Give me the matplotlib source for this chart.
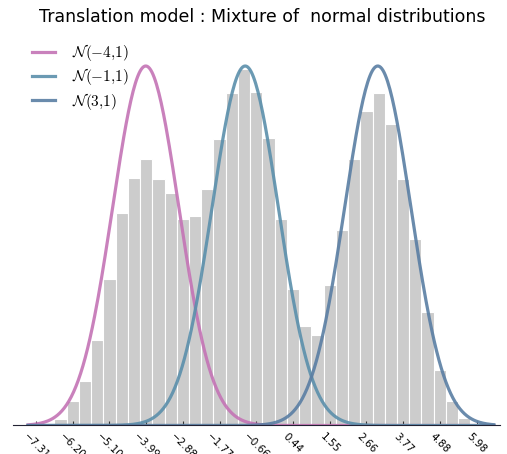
import matplotlib
matplotlib.use("Agg")
import matplotlib.pyplot as plt
import numpy as np

# histogram of the sample (density), one value per bin
x_min, x_max = -7.31, 5.98
n_bins = 36
bin_heights = [0.000, 0.001, 0.0075, 0.0269, 0.0490, 0.0949, 0.1629, 0.2361,
               0.2750, 0.2960, 0.2739, 0.2580, 0.2288, 0.2330, 0.2628, 0.3182,
               0.3686, 0.3961, 0.3697, 0.3194, 0.2288, 0.1518, 0.1104, 0.1008,
               0.1559, 0.2169, 0.2957, 0.3493, 0.3690, 0.3342, 0.2732, 0.2066,
               0.1256, 0.0616, 0.0275, 0.0087]
tick_labels = ["-7.31", "-6.20", "-5.10", "-3.99", "-2.88", "-1.77", "-0.66",
               "0.44", "1.55", "2.66", "3.77", "4.88", "5.98"]

# mixture components
means = [-4, -1, 3]
sigmas = [1, 1, 1]
labels = [r"$\mathcal{N}(-4{,}1)$", r"$\mathcal{N}(-1{,}1)$", r"$\mathcal{N}(3{,}1)$"]
colors = ["#c473b5", "#5b8fab", "#5a7ea3"]

plt.rcParams["mathtext.fontset"] = "cm"

fig = plt.figure(figsize=(5.07, 4.54), dpi=100)
ax = fig.add_axes([0.026, 0.0628, 0.961, 0.838])

edges = np.linspace(x_min, x_max, n_bins + 1)
width = edges[1] - edges[0]
ax.bar(edges[:-1], bin_heights, width=width, color="#cccccc",
       edgecolor="white", linewidth=0.8, zorder=1)

x = np.linspace(-7.55, 6.5, 400)
for mu, s, lab, c in zip(means, sigmas, labels, colors):
    y = np.exp(-0.5 * ((x - mu) / s) ** 2) / (s * np.sqrt(2 * np.pi))
    ax.plot(x, y, color=c, lw=2.3, alpha=0.9, label=lab, zorder=2)

ax.set_xlim(-8.0, 6.7)
ax.set_ylim(0, 0.4222)
ax.set_xticks(edges[::3])
ax.set_xticklabels([t.replace("-", "\u2212") for t in tick_labels],
                   rotation=-45, fontsize=7.5)
ax.tick_params(axis="x", direction="in", length=3, color="#333333", pad=4)
ax.set_yticks([])
for side in ["top", "left", "right"]:
    ax.spines[side].set_visible(False)
ax.spines["bottom"].set_color("#222233")

ax.legend(loc="upper left", bbox_to_anchor=(0.01, 1.043), frameon=False,
          fontsize=11, handlelength=1.5, handletextpad=1.1, labelspacing=0.2)

fig.text(0.517, 0.962, "Translation model : Mixture of  normal distributions",
         ha="center", va="center", fontsize=12.5)

fig.savefig("out.png", dpi=100)
